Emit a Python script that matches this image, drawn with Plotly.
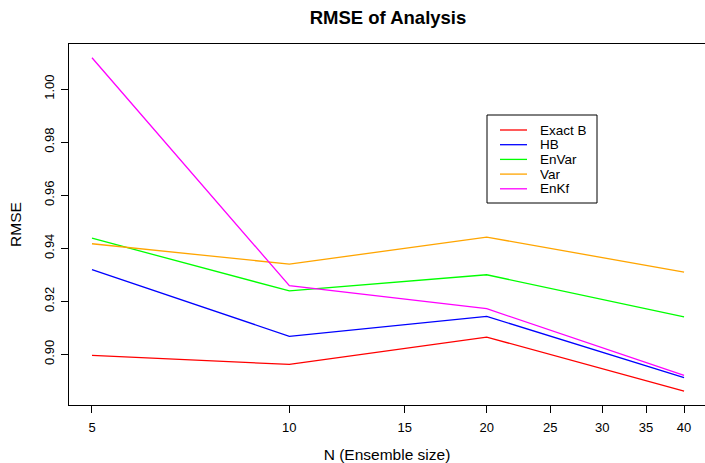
import math
import plotly.graph_objects as go

# ---- data ----
ensemble_size = [5, 10, 20, 40]
series_names = ["Exact B", "HB", "EnVar", "Var", "EnKf"]
series_colors = ["#FF0000", "#0000FF", "#00FF00", "#FFA500", "#FF00FF"]
exact_b = [0.8996, 0.8962, 0.9065, 0.8861]
hb = [0.9319, 0.9068, 0.9143, 0.8912]
envar = [0.9438, 0.9239, 0.9300, 0.9141]
var = [0.9417, 0.9340, 0.9442, 0.9310]
enkf = [1.0118, 0.9259, 0.9172, 0.8921]
series_values = [exact_b, hb, envar, var, enkf]

x_ticks = [5, 10, 15, 20, 25, 30, 35, 40]
y_ticks = [0.90, 0.92, 0.94, 0.96, 0.98, 1.00]
y_ticklabels = ["0.90", "0.92", "0.94", "0.96", "0.98", "1.00"]

FONT = "Liberation Sans, Arial, Helvetica, sans-serif"

W, H = 705, 463
ML, MR, MT, MB = 69, 0, 44, 58
PW, PH = W - ML - MR, H - MT - MB

def px_x(x):
    return (x - ML) / PW

def px_y(y):
    return (H - MB - y) / PH

fig = go.Figure()
for name, color, vals in zip(series_names, series_colors, series_values):
    fig.add_trace(go.Scatter(x=ensemble_size, y=vals, mode="lines", name=name,
                             line=dict(color=color, width=1.3), showlegend=False))

# custom R-style legend
shapes = [dict(type="rect", xref="paper", yref="paper",
               x0=px_x(487), x1=px_x(597), y0=px_y(115), y1=px_y(203),
               line=dict(color="black", width=1), fillcolor="white", layer="above")]
annotations = []
for i, (name, color) in enumerate(zip(series_names, series_colors)):
    yy = 130 + i * 14.7
    shapes.append(dict(type="line", xref="paper", yref="paper",
                       x0=px_x(500), x1=px_x(527), y0=px_y(yy), y1=px_y(yy),
                       line=dict(color=color, width=1.3), layer="above"))
    annotations.append(dict(xref="paper", yref="paper", x=px_x(539), y=px_y(yy),
                            text=name, showarrow=False, xanchor="left", yanchor="middle",
                            height=13, valign="middle", borderpad=0,
                            font=dict(family=FONT, size=13.5, color="black")))

fig.update_layout(
    width=W, height=H,
    margin=dict(l=ML, r=MR, t=MT, b=MB),
    paper_bgcolor="white", plot_bgcolor="white",
    title=dict(text="<b>RMSE of Analysis</b>", x=388 / W,
               xanchor="center", y=1 - 18 / H, yanchor="middle",
               font=dict(family=FONT, size=18.5, color="black")),
    shapes=shapes, annotations=annotations,
    xaxis=dict(type="log", range=[0.6639, 1.634], tickmode="array", tickvals=x_ticks,
               ticktext=[str(t) for t in x_ticks], ticks="outside", ticklen=7,
               tickcolor="black", showgrid=False, zeroline=False, showline=True,
               linecolor="black", linewidth=1, mirror=True, ticklabelstandoff=3,
               tickfont=dict(family=FONT, size=13, color="black"),
               title=dict(text="N (Ensemble size)", standoff=16,
                          font=dict(family=FONT, size=15.5, color="black"))),
    yaxis=dict(range=[0.8809, 1.017], tickmode="array", tickvals=y_ticks,
               ticktext=y_ticklabels, ticks="outside", ticklen=7, tickcolor="black",
               tickangle=-90, showgrid=False, zeroline=False, showline=True,
               linecolor="black", linewidth=1, ticklabelstandoff=2,
               tickfont=dict(family=FONT, size=13, color="black"),
               title=dict(text="RMSE", standoff=16,
                          font=dict(family=FONT, size=15.5, color="black"))),
)

fig.write_html("out.html")
